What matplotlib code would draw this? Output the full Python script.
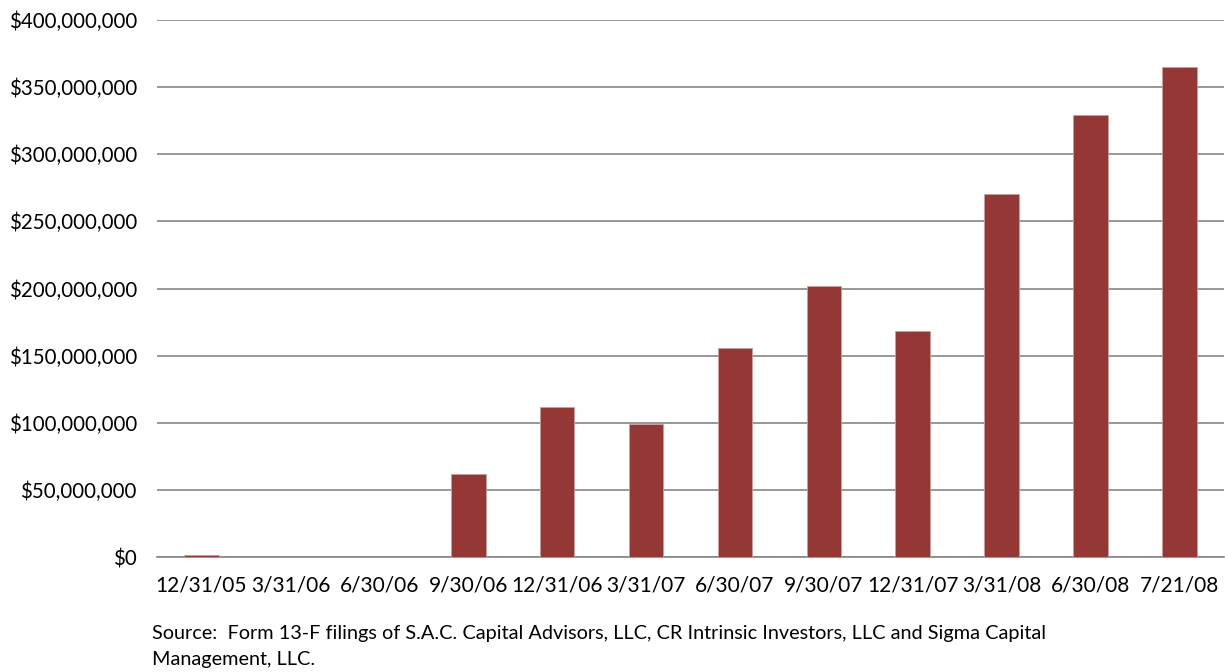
import matplotlib.pyplot as plt
from matplotlib.ticker import FuncFormatter

# quarter-end filing dates and reported value of holdings
dates = ['12/31/05', '3/31/06', '6/30/06', '9/30/06', '12/31/06', '3/31/07',
         '6/30/07', '9/30/07', '12/31/07', '3/31/08', '6/30/08', '7/21/08']
values = [1500000, 0, 0, 62000000, 111500000, 99000000,
          155500000, 202000000, 168500000, 270500000, 329500000, 365000000]

plt.rcParams['font.family'] = ['Lato', 'DejaVu Sans']

fig = plt.figure(figsize=(12.25, 6.72), dpi=100)
ax = fig.add_axes([157 / 1225, 1 - 557 / 672, 1067 / 1225, 537 / 672])

ax.bar(range(len(dates)), values, width=0.39, color='#953735',
       edgecolor='#c9a09f', linewidth=0.6, zorder=3)

ax.set_ylim(0, 400000000)
ax.set_xlim(-0.5, len(dates) - 0.5)
ax.set_yticks(range(0, 400000001, 50000000))
ax.yaxis.set_major_formatter(FuncFormatter(lambda v, p: '${:,.0f}'.format(v)))
ax.set_xticks(range(len(dates)))
ax.set_xticklabels(dates)

ax.grid(axis='y', color='#868686', linewidth=1.2, zorder=0)
for s in ['top', 'right', 'left']:
    ax.spines[s].set_visible(False)
ax.spines['bottom'].set_color('#868686')
ax.spines['bottom'].set_linewidth(1.2)
ax.tick_params(axis='both', length=0, colors='black')
ax.tick_params(axis='y', pad=14.5, labelsize=14.8)
ax.tick_params(axis='x', pad=13, labelsize=15)

fig.text(152 / 1225, 1 - 634 / 672,
         'Source:  Form 13-F filings of S.A.C. Capital Advisors, LLC, CR Intrinsic Investors, LLC and Sigma Capital',
         fontsize=14.3, va='center', ha='left')
fig.text(152 / 1225, 1 - 660 / 672, 'Management, LLC.',
         fontsize=14.3, va='center', ha='left')

fig.savefig('out.png', dpi=100)
